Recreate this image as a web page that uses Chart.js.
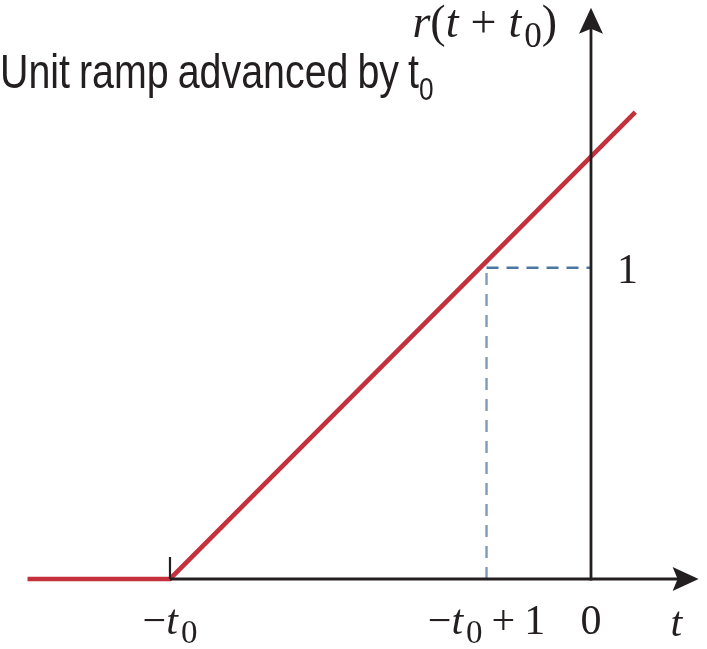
<!DOCTYPE html>
<html>
<head>
<meta charset="utf-8">
<script src="https://cdn.jsdelivr.net/npm/chart.js@4/dist/chart.umd.min.js"></script>
<style>
  html, body { margin: 0; padding: 0; background: #ffffff; }
  #wrap { width: 707px; height: 649px; }
</style>
</head>
<body>
<div id="wrap"><canvas id="c" width="707" height="649"></canvas></div>
<script>
// r(t + t0): zero up to t = -t0, then rises with slope 1
const T0 = 1.33;
const rampT = [-1.78, -T0, 0.14];
const rampR = [0, 0, 1.5];
// dashed guide to the point (-t0 + 1, 1)
const guideT = [-T0 + 1];
const guideR = [1];
// axis marks
const xTickValues = [-T0, -T0 + 1, 0];
const xTickLabels = ['−t₀', '−t₀ + 1', '0'];
const yTickValues = [1];
const yTickLabels = ['1'];
const xAxisTitle = 't';
const yAxisTitle = 'r(t + t₀)';
const chartTitle = 'Unit ramp advanced by t₀';
// visible ranges and arrow tips (data units)
const xRange = [-1.867, 0.3665];
const yRange = [-0.2249, 1.86];
const xArrowTip = 0.34;
const yArrowTip = 1.835;

const INK = '#231f20';
const RED = '#c4303c';

function runPieces(ctx, str, o) {
  const out = [];
  let prevItalic = false;
  for (const ch of str) {
    let p;
    if (ch === '₀') {
      p = { t: '0', font: `${o.subSize}px ${o.family}`, dy: o.subShift, pre: prevItalic ? o.italicGap : 0 };
    } else if (ch === ' ') {
      p = { t: '', font: null, w: o.space, dy: 0, pre: 0 };
    } else if (o.math && /[A-Za-z]/.test(ch)) {
      p = { t: ch, font: `italic ${o.size}px ${o.family}`, dy: 0, pre: 0 };
    } else {
      p = { t: ch, font: `${o.size}px ${o.family}`, dy: 0, pre: 0 };
    }
    prevItalic = o.math && /[A-Za-z]/.test(ch);
    if (p.font) { ctx.font = p.font; p.w = ctx.measureText(p.t).width; }
    out.push(p);
  }
  return out;
}

function drawRich(ctx, str, x, y, o, align) {
  const ps = runPieces(ctx, str, o);
  const total = ps.reduce((s, p) => s + p.w + p.pre, 0) * (o.sx || 1);
  let cx = align === 'center' ? x - total / 2 : align === 'right' ? x - total : x;
  ctx.save();
  ctx.fillStyle = INK;
  ctx.textAlign = 'left';
  ctx.textBaseline = 'alphabetic';
  ctx.translate(cx, y);
  ctx.scale(o.sx || 1, 1);
  let px = 0;
  ps.forEach(p => {
    px += p.pre;
    if (p.font) { ctx.font = p.font; ctx.fillText(p.t, px, p.dy); }
    px += p.w;
  });
  ctx.restore();
}

function hasFont(ctx, family) {
  ctx.font = '40px monospace';
  const a = ctx.measureText('Unit ramp advanced').width;
  ctx.font = `40px "${family}", monospace`;
  const b = ctx.measureText('Unit ramp advanced').width;
  return Math.abs(a - b) > 0.5;
}

function arrowHead(ctx, tipX, tipY, dirX, dirY) {
  const len = 26, half = 12, notch = 5;
  const nx = -dirY, ny = dirX;
  const bx = tipX - dirX * len, by = tipY - dirY * len;
  ctx.beginPath();
  ctx.moveTo(tipX, tipY);
  ctx.lineTo(bx + nx * half, by + ny * half);
  ctx.lineTo(bx + dirX * notch, by + dirY * notch);
  ctx.lineTo(bx - nx * half, by - ny * half);
  ctx.closePath();
  ctx.fill();
}

const axesPlugin = {
  id: 'rampAxes',
  afterDatasetsDraw(chart) {
    const ctx = chart.ctx;
    const xs = chart.scales.x, ys = chart.scales.y;
    const x0 = xs.getPixelForValue(0), y0 = ys.getPixelForValue(0);
    const xTip = xs.getPixelForValue(xArrowTip), yTip = ys.getPixelForValue(yArrowTip);
    const xStart = xs.getPixelForValue(-T0);

    ctx.save();
    ctx.strokeStyle = INK;
    ctx.fillStyle = INK;
    ctx.lineWidth = 2.8;
    ctx.lineCap = 'butt';
    // horizontal axis
    ctx.beginPath();
    ctx.moveTo(xStart, y0);
    ctx.lineTo(xTip - 20, y0);
    ctx.stroke();
    arrowHead(ctx, xTip, y0, 1, 0);
    // vertical axis
    ctx.beginPath();
    ctx.moveTo(x0, y0 + 1.4);
    ctx.lineTo(x0, yTip + 20);
    ctx.stroke();
    arrowHead(ctx, x0, yTip, 0, -1);
    // small tick at t = -t0
    ctx.lineWidth = 2.2;
    ctx.beginPath();
    ctx.moveTo(xStart, y0);
    ctx.lineTo(xStart, y0 - 22);
    ctx.stroke();
    ctx.restore();

    const serif = {
      family: '"Liberation Serif", "DejaVu Serif", serif',
      size: 42, subSize: 33, subShift: 9, space: 9, italicGap: 3, math: true
    };
    // tick labels under the t axis
    xTickValues.forEach((v, i) => {
      drawRich(ctx, xTickLabels[i], xs.getPixelForValue(v), 634, serif, 'center');
    });
    drawRich(ctx, xAxisTitle, xs.getPixelForValue(0.27), 636, serif, 'center');
    // tick label beside the vertical axis
    yTickValues.forEach((v, i) => {
      drawRich(ctx, yTickLabels[i], x0 + 26, ys.getPixelForValue(v) + 15, serif, 'left');
    });
    // vertical axis title
    drawRich(ctx, yAxisTitle, x0 - 34, 37,
      Object.assign({}, serif, { size: 46, subSize: 35, subShift: 10, space: 12 }), 'right');

    // chart title
    const narrow = hasFont(ctx, 'Liberation Sans Narrow');
    const titleOpts = {
      family: narrow ? '"Liberation Sans Narrow"' : '"Liberation Sans", Arial, sans-serif',
      size: 48, subSize: 32, subShift: 12, space: 11, italicGap: 1, math: false,
      sx: narrow ? 1 : 0.82
    };
    drawRich(ctx, chartTitle, 0, 88, titleOpts, 'left');
  }
};

const rampPoints = rampT.map((t, i) => ({ x: t, y: rampR[i] }));
const guideH = [{ x: guideT[0], y: guideR[0] }, { x: 0, y: guideR[0] }];
const guideV = [{ x: guideT[0], y: 0 }, { x: guideT[0], y: guideR[0] }];

new Chart(document.getElementById('c'), {
  type: 'scatter',
  data: {
    datasets: [
      {
        label: 'guide-h', data: guideH, showLine: true,
        borderColor: '#4a76a2', borderWidth: 2.4, borderDash: [12, 8],
        pointRadius: 0, fill: false
      },
      {
        label: 'guide-v', data: guideV, showLine: true,
        borderColor: '#7f9bb6', borderWidth: 2.4, borderDash: [12, 9],
        pointRadius: 0, fill: false
      },
      {
        label: 'r(t + t0)', data: rampPoints, showLine: true,
        borderColor: RED, borderWidth: 4.6, pointRadius: 0, fill: false,
        borderCapStyle: 'butt', borderJoinStyle: 'miter', tension: 0
      }
    ]
  },
  options: {
    responsive: false,
    animation: false,
    devicePixelRatio: 1,
    layout: { padding: 0 },
    plugins: { legend: { display: false }, tooltip: { enabled: false }, title: { display: false } },
    scales: {
      x: { type: 'linear', min: xRange[0], max: xRange[1], display: false },
      y: { type: 'linear', min: yRange[0], max: yRange[1], display: false }
    }
  },
  plugins: [axesPlugin]
});
</script>
</body>
</html>
